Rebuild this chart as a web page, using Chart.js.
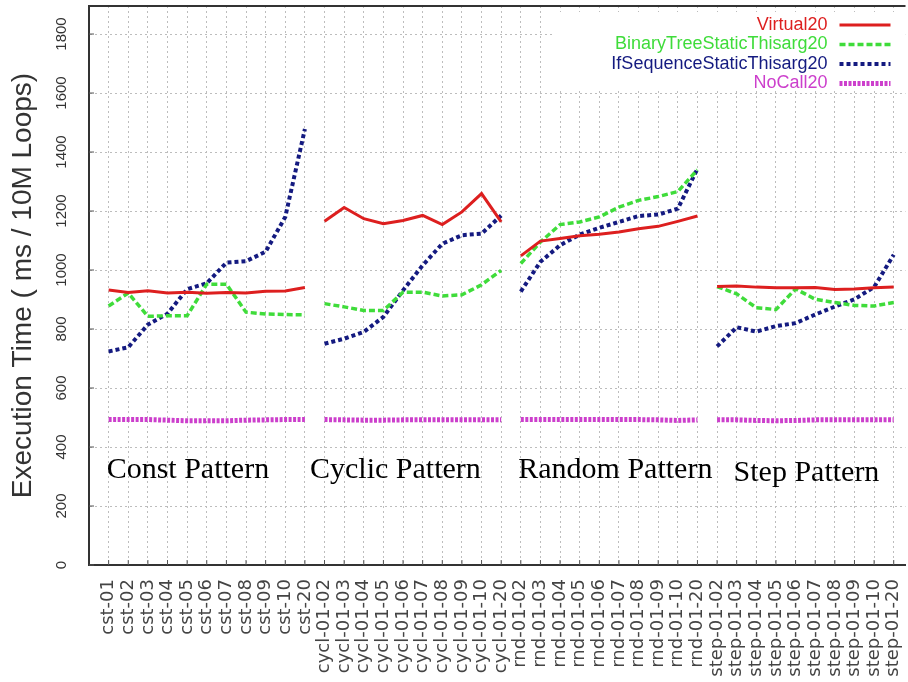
<!DOCTYPE html>
<html>
<head>
<meta charset="utf-8">
<script src="https://cdn.jsdelivr.net/npm/chart.js@4/dist/chart.umd.min.js"></script>
<style>
  html, body { margin: 0; padding: 0; background: #fff; }
  #wrap { width: 908px; height: 682px; }
</style>
</head>
<body>
<div id="wrap"><canvas id="myChart" width="908" height="682"></canvas></div>
<script>
// categories, one list per pattern group
const cstLabels = ['cst-01', 'cst-02', 'cst-03', 'cst-04', 'cst-05', 'cst-06', 'cst-07', 'cst-08', 'cst-09', 'cst-10', 'cst-20'];
const cyclLabels = ['cycl-01-02', 'cycl-01-03', 'cycl-01-04', 'cycl-01-05', 'cycl-01-06', 'cycl-01-07', 'cycl-01-08', 'cycl-01-09', 'cycl-01-10', 'cycl-01-20'];
const rndLabels = ['rnd-01-02', 'rnd-01-03', 'rnd-01-04', 'rnd-01-05', 'rnd-01-06', 'rnd-01-07', 'rnd-01-08', 'rnd-01-09', 'rnd-01-10', 'rnd-01-20'];
const stepLabels = ['step-01-02', 'step-01-03', 'step-01-04', 'step-01-05', 'step-01-06', 'step-01-07', 'step-01-08', 'step-01-09', 'step-01-10', 'step-01-20'];
const patternNames = ['Const Pattern', 'Cyclic Pattern', 'Random Pattern', 'Step Pattern'];

// series values (ms / 10M loops), in the same order as the categories
const virtual20 = [
  932, 924, 930, 922, 925, 921, 924, 922, 928, 929, 941,
  1165, 1212, 1174, 1157, 1168, 1185, 1154, 1197, 1259, 1163,
  1048, 1098, 1107, 1116, 1121, 1129, 1140, 1148, 1165, 1183,
  944, 946, 942, 940, 940, 941, 934, 936, 940, 942
];
const binaryTree20 = [
  878, 922, 843, 845, 845, 952, 952, 857, 851, 849, 848,
  886, 875, 863, 863, 925, 925, 912, 916, 950, 999,
  1022, 1095, 1154, 1163, 1180, 1213, 1236, 1249, 1266, 1340,
  944, 919, 872, 866, 936, 901, 890, 880, 878, 890
];
const ifSequence20 = [
  724, 738, 815, 852, 935, 955, 1025, 1030, 1062, 1180, 1478,
  750, 767, 790, 841, 931, 1016, 1089, 1118, 1123, 1185,
  927, 1028, 1084, 1120, 1143, 1163, 1183, 1188, 1208, 1343,
  741, 806, 791, 810, 820, 849, 876, 901, 942, 1052
];
const noCall20 = [
  493, 493, 493, 491, 489, 489, 489, 491, 492, 493, 493,
  493, 492, 491, 491, 492, 492, 492, 492, 492, 492,
  493, 493, 493, 493, 493, 493, 493, 492, 490, 492,
  492, 492, 490, 489, 490, 492, 492, 492, 492, 492
];
const yTicks = [0, 200, 400, 600, 800, 1000, 1200, 1400, 1600, 1800];

const groups = [cstLabels, cyclLabels, rndLabels, stepLabels];
const labels = groups.flat();

// x positions are category indexes; a null point between groups breaks the line
function toPoints(values) {
  const pts = [];
  let i = 0;
  groups.forEach((g, gi) => {
    if (gi > 0) pts.push({ x: i - 0.5, y: null });
    g.forEach(() => { pts.push({ x: i, y: values[i] }); i++; });
  });
  return pts;
}

const series = [
  { label: 'Virtual20', values: virtual20, color: '#dd1f1f', width: 3, dash: [] },
  { label: 'BinaryTreeStaticThisarg20', values: binaryTree20, color: '#3fdc3a', width: 3.5, dash: [6, 3] },
  { label: 'IfSequenceStaticThisarg20', values: ifSequence20, color: '#141a80', width: 4, dash: [4, 3] },
  { label: 'NoCall20', values: noCall20, color: '#cc3fcc', width: 5, dash: [3, 1.5] }
];

// placement of the group captions, in axis units
const captionPos = [
  { x: -0.1, y: 295 },
  { x: 10.26, y: 295 },
  { x: 20.87, y: 295 },
  { x: 31.84, y: 285 }
];

const extras = {
  id: 'extras',
  beforeDatasetsDraw(chart) {
    const { ctx, chartArea: a } = chart;
    ctx.save();
    ctx.fillStyle = '#fff';
    ctx.fillRect(a.right - 351, a.top + 6, 351, 76);
    ctx.restore();
  },
  afterDatasetsDraw(chart) {
    const { ctx, chartArea: a, scales } = chart;
    ctx.save();
    // legend: text right-aligned, sample line to its right
    ctx.font = '18px "Liberation Sans", Arial, sans-serif';
    ctx.textAlign = 'right';
    ctx.textBaseline = 'middle';
    chart.data.datasets.forEach((ds, i) => {
      const y = a.top + 19 + i * 19.5;
      ctx.fillStyle = ds.borderColor;
      ctx.fillText(ds.label, a.right - 78, y);
      ctx.strokeStyle = ds.borderColor;
      ctx.lineWidth = ds.borderWidth;
      ctx.setLineDash(ds.borderDash);
      ctx.beginPath();
      ctx.moveTo(a.right - 66, y);
      ctx.lineTo(a.right - 15, y);
      ctx.stroke();
    });
    ctx.setLineDash([]);
    // group captions
    ctx.font = '30px "Liberation Serif", "Times New Roman", serif';
    ctx.fillStyle = '#000';
    ctx.textAlign = 'left';
    ctx.textBaseline = 'alphabetic';
    patternNames.forEach((t, i) => {
      ctx.fillText(t, scales.x.getPixelForValue(captionPos[i].x), scales.y.getPixelForValue(captionPos[i].y));
    });
    ctx.restore();
  },
  afterDraw(chart) {
    const { ctx, chartArea: a, scales } = chart;
    ctx.save();
    ctx.strokeStyle = '#333';
    ctx.lineWidth = 2;
    ctx.beginPath();
    ctx.moveTo(a.left, a.top);
    ctx.lineTo(a.right, a.top);
    ctx.stroke();
    // inward tick marks
    ctx.lineWidth = 1;
    ctx.strokeStyle = '#555';
    ctx.beginPath();
    labels.forEach((l, i) => {
      const x = scales.x.getPixelForValue(i);
      ctx.moveTo(x, a.bottom);
      ctx.lineTo(x, a.bottom - 5);
    });
    yTicks.forEach(v => {
      const y = scales.y.getPixelForValue(v);
      ctx.moveTo(a.left, y);
      ctx.lineTo(a.left + 5, y);
    });
    ctx.stroke();
    ctx.restore();
  }
};

const ctx = document.getElementById('myChart').getContext('2d');
const myChart = new Chart(ctx, {
  type: 'line',
  data: {
    datasets: series.map(s => ({
      label: s.label,
      data: toPoints(s.values),
      borderColor: s.color,
      backgroundColor: s.color,
      borderWidth: s.width,
      borderDash: s.dash,
      pointRadius: 0,
      tension: 0,
      fill: false,
      spanGaps: false
    }))
  },
  options: {
    responsive: false,
    animation: false,
    layout: { padding: { top: 6, left: 2, right: 0, bottom: 0 } },
    plugins: { legend: { display: false }, tooltip: { enabled: false } },
    scales: {
      x: {
        type: 'linear',
        min: -1,
        max: 40.6,
        afterBuildTicks: s => { s.ticks = labels.map((l, i) => ({ value: i })); },
        afterFit: s => { s.height = 117; s.paddingLeft = 0; s.paddingRight = 0; },
        grid: { color: '#bdbdbd', lineWidth: 1, drawTicks: false },
        border: { display: true, color: '#333', width: 2, dash: [2, 3] },
        ticks: {
          autoSkip: false,
          minRotation: 90,
          maxRotation: 90,
          padding: 14,
          color: '#444',
          font: { family: '"DejaVu Sans", sans-serif', size: 18 },
          callback: v => labels[v] ?? ''
        }
      },
      y: {
        min: 0,
        max: 1895,
        afterBuildTicks: s => { s.ticks = yTicks.map(v => ({ value: v })); },
        afterFit: s => { s.width = 87; s.paddingTop = 0; s.paddingBottom = 0; },
        grid: { color: '#bdbdbd', lineWidth: 1, drawTicks: false },
        border: { display: true, color: '#333', width: 2, dash: [2, 3] },
        ticks: {
          minRotation: 90,
          maxRotation: 90,
          crossAlign: 'center',
          padding: 10,
          color: '#333',
          font: { family: '"Liberation Sans", Arial, sans-serif', size: 15 },
          callback: v => String(v)
        },
        title: {
          display: true,
          text: 'Execution Time ( ms / 10M Loops)',
          color: '#333',
          font: { family: '"Liberation Sans", Arial, sans-serif', size: 28 },
          padding: { top: 4, bottom: 10 }
        }
      }
    }
  },
  plugins: [extras]
});

myChart.update();
</script>
</body>
</html>
